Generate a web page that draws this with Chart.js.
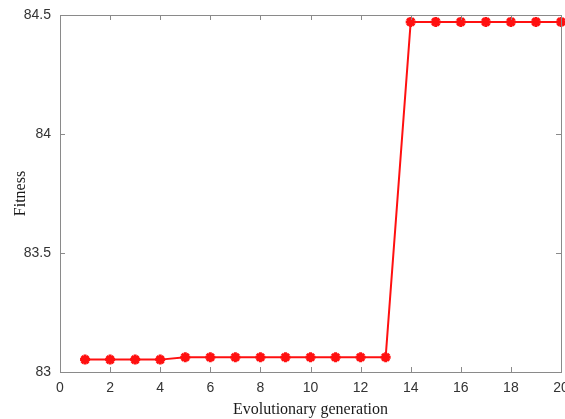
<!DOCTYPE html>
<html>
<head>
<meta charset="utf-8">
<script src="https://cdn.jsdelivr.net/npm/chart.js@4"></script>
<style>
  html, body { margin: 0; padding: 0; background: #ffffff; }
  #wrap { width: 565px; height: 419px; }
</style>
</head>
<body>
<div id="wrap"><canvas id="fitnessChart"></canvas></div>
<script>
// data
const generations = [1, 2, 3, 4, 5, 6, 7, 8, 9, 10, 11, 12, 13, 14, 15, 16, 17, 18, 19, 20];
const fitness = [83.052, 83.052, 83.052, 83.052, 83.062, 83.062, 83.062, 83.062, 83.062, 83.062,
                 83.062, 83.062, 83.062, 84.471, 84.471, 84.471, 84.471, 84.471, 84.471, 84.471];
const xTicks = [0, 2, 4, 6, 8, 10, 12, 14, 16, 18, 20];
const yTicks = [83, 83.5, 84, 84.5];

const axisGrey = '#8a8a8a';
const tickFont = { family: "'Liberation Sans', Arial, sans-serif", size: 14 };
const titleFont = { family: "'Liberation Serif', 'Times New Roman', serif", size: 16 };

/**
 * Box around the plot with short inward tick marks on all four sides
 */
const boxTicks = {
    id: 'boxTicks',
    afterDatasetsDraw(chart) {
        const { ctx, chartArea: a, scales: { x, y } } = chart;
        const len = 5;
        ctx.save();
        ctx.strokeStyle = axisGrey;
        ctx.lineWidth = 1;
        ctx.beginPath();
        xTicks.forEach(v => {
            const px = Math.round(x.getPixelForValue(v)) + 0.5;
            ctx.moveTo(px, a.bottom); ctx.lineTo(px, a.bottom - len);
            ctx.moveTo(px, a.top); ctx.lineTo(px, a.top + len);
        });
        yTicks.forEach(v => {
            const py = Math.round(y.getPixelForValue(v)) + 0.5;
            ctx.moveTo(a.left, py); ctx.lineTo(a.left + len, py);
            ctx.moveTo(a.right, py); ctx.lineTo(a.right - len, py);
        });
        ctx.stroke();
        ctx.strokeRect(Math.round(a.left) + 0.5, Math.round(a.top) + 0.5,
                       Math.round(a.right - a.left), Math.round(a.bottom - a.top));
        ctx.restore();
    }
};

new Chart(document.getElementById('fitnessChart'), {
    type: 'line',
    data: {
        datasets: [{
            label: 'Fitness',
            data: generations.map((g, i) => ({ x: g, y: fitness[i] })),
            borderColor: '#ff1010',
            backgroundColor: '#ff1010',
            borderWidth: 2,
            tension: 0,
            pointStyle: 'star',
            pointRadius: 5,
            pointBorderWidth: 3,
            pointBorderColor: '#ff1010',
            pointBackgroundColor: '#ff1010',
            clip: false,
        }]
    },
    options: {
        responsive: true,
        maintainAspectRatio: false,
        animation: false,
        layout: { autoPadding: false, padding: { top: 15, right: 4, bottom: 0, left: 0 } },
        plugins: {
            legend: { display: false },
            tooltip: { enabled: false }
        },
        scales: {
            x: {
                type: 'linear',
                min: 0,
                max: 20,
                afterBuildTicks: scale => { scale.ticks = xTicks.map(v => ({ value: v })); },
                afterFit: scale => { scale.height = 47; scale.paddingRight = 0; scale.paddingLeft = 0; },
                ticks: { font: tickFont, color: '#333333', padding: 8, maxRotation: 0 },
                grid: { display: false, drawTicks: false },
                border: { display: false },
                title: { display: true, text: 'Evolutionary generation', font: titleFont, color: '#1a1a1a', padding: 0 }
            },
            y: {
                type: 'linear',
                min: 83,
                max: 84.5,
                afterBuildTicks: scale => { scale.ticks = yTicks.map(v => ({ value: v })); },
                afterFit: scale => { scale.width = 60; scale.paddingTop = 0; scale.paddingBottom = 0; },
                ticks: { font: tickFont, color: '#333333', padding: 9, callback: v => String(v) },
                grid: { display: false, drawTicks: false },
                border: { display: false },
                title: { display: true, text: 'Fitness', font: titleFont, color: '#1a1a1a', padding: { top: 11, bottom: 0 } }
            }
        }
    },
    plugins: [boxTicks]
});
</script>
</body>
</html>
